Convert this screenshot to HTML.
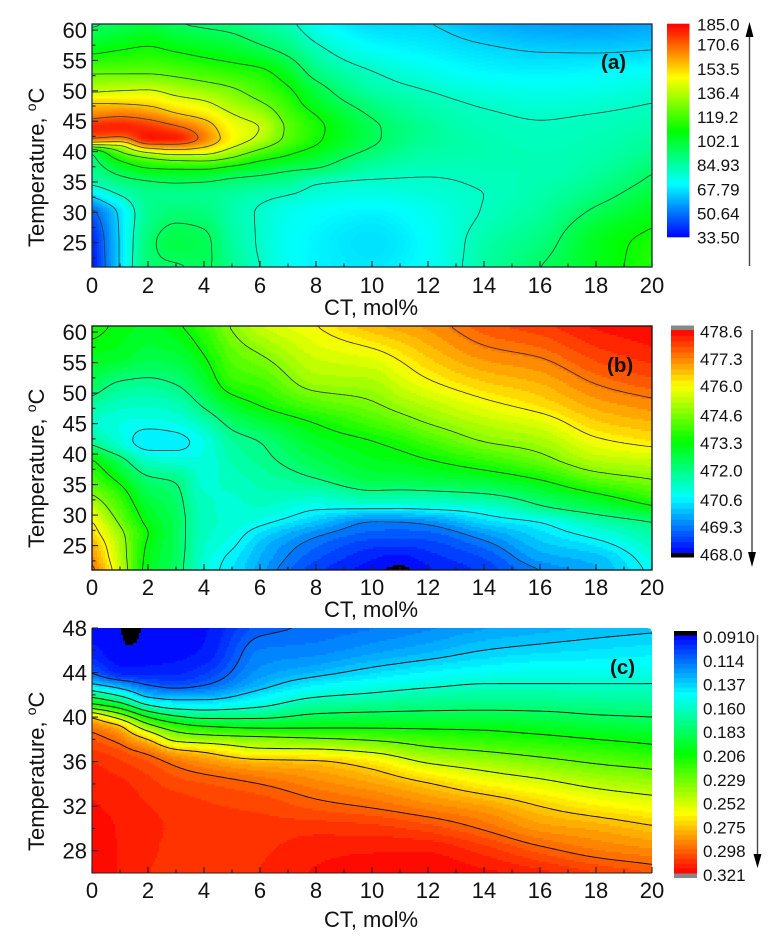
<!DOCTYPE html>
<html lang="en">
<head>
<meta charset="utf-8">
<title>Contour maps versus CT content and temperature</title>
<style>
html,body{margin:0;padding:0;background:#fff;}
svg{display:block;font-family:"Liberation Sans",Arial,sans-serif;fill:#111;}
</style>
</head>
<body>
<svg id="figure" width="781" height="937" viewBox="0 0 781 937" xmlns="http://www.w3.org/2000/svg">
  <defs>
    <clipPath id="clip-a"><rect x="92" y="24" width="560" height="243"/></clipPath>
    <clipPath id="clip-b"><rect x="92" y="326" width="560" height="244"/></clipPath>
    <clipPath id="clip-c"><path d="M92,628H647Q652,628 652,633V873H92Z"/></clipPath>
  </defs>

  <g id="panel-a">
    <g id="heat-a" clip-path="url(#clip-a)"></g>
    <g id="contour-a" clip-path="url(#clip-a)"></g>
    <g id="ticks-a"></g>
    <rect x="92" y="24" width="560" height="243" fill="none" stroke="#1c2c3a" stroke-width="1.3"/>
    <text x="371" y="315" font-size="22" text-anchor="middle">CT, mol%</text>
    <text transform="translate(44,247) rotate(-90)" font-size="22">Temperature, <tspan dy="-8" font-size="14">o</tspan><tspan dy="8">C</tspan></text>
    <text x="601" y="69" font-size="20.5" font-weight="bold">(a)</text>
    <g id="bar-a"></g>
    <line x1="749.5" y1="266" x2="749.5" y2="34" stroke="#444" stroke-width="1.4"/>
    <polygon points="749.5,22 745.5,37 753.5,37" fill="#000"/>
  </g>

  <g id="panel-b">
    <g id="heat-b" clip-path="url(#clip-b)"></g>
    <g id="contour-b" clip-path="url(#clip-b)"></g>
    <g id="ticks-b"></g>
    <rect x="92" y="326" width="560" height="244" fill="none" stroke="#111" stroke-width="1.3"/>
    <text x="371" y="617" font-size="22" text-anchor="middle">CT, mol%</text>
    <text transform="translate(44,548) rotate(-90)" font-size="22">Temperature, <tspan dy="-8" font-size="14">o</tspan><tspan dy="8">C</tspan></text>
    <text x="607" y="372" font-size="20.5" font-weight="bold">(b)</text>
    <g id="bar-b"></g>
    <line x1="752" y1="330" x2="752" y2="556" stroke="#222" stroke-width="1.2"/>
    <polygon points="752,567 748,552 756,552" fill="#000"/>
  </g>

  <g id="panel-c">
    <g id="heat-c" clip-path="url(#clip-c)"></g>
    <g id="contour-c" clip-path="url(#clip-c)"></g>
    <g id="ticks-c"></g>
    <line x1="92" y1="628" x2="92" y2="873.5" stroke="#222" stroke-width="1.1"/>
    <line x1="92" y1="873" x2="652" y2="873" stroke="#222" stroke-width="1.1"/>
    <text x="371" y="927" font-size="22" text-anchor="middle">CT, mol%</text>
    <text transform="translate(44,851) rotate(-90)" font-size="22">Temperature, <tspan dy="-8" font-size="14">o</tspan><tspan dy="8">C</tspan></text>
    <text x="610" y="674" font-size="20.5" font-weight="bold">(c)</text>
    <g id="bar-c"></g>
    <line x1="757.5" y1="635" x2="757.5" y2="858" stroke="#444" stroke-width="1.4"/>
    <polygon points="757.5,868 753.5,854 761.5,854" fill="#000"/>
  </g>
</svg>

<script>
/* ---------- shared axis data ---------- */
const xTickLabels = [0,2,4,6,8,10,12,14,16,18,20];
const xMinorTicks = [1,3,5,7,9,11,13,15,17,19];
const yTicksAB = [25,30,35,40,45,50,55,60];
const yMinorAB = [22.5,27.5,32.5,37.5,42.5,47.5,52.5,57.5];
const yTicksC = [28,32,36,40,44,48];
const yMinorC = [26,30,34,38,42,46];

/* ---------- panel (a) ---------- */
const ctA = [0,1,2,3,4,5,6,7,8,10,12,14,16,18,20];
const tempA = [21,25,30,33,35,37,39,40,41,42,44,46,48,50,53,57,61];
/* one array per CT column, bottom (21 C) to top (61 C) */
const zA = [
 [35,37,47,68,83,88,92,95,135,170,180,165,155,138,124,106,93],
 [66,66,67,81,90,100,114,125,138,165,181,168,154,140,124,109,97],
 [92,92,88,88,94,108,125,143,165,183,178,165,152,141,124,111,100],
 [94,99,92,88,96,109,131,150,166,182,172,157,146,136,122,108,95],
 [96,97,91,88,95,109,132,147,158,167,162,151,142,132,119,105,93],
 [88,86,84,86,92,104,125,134,143,148,146,141,133,127,116,102,91],
 [80,79,79,83,90,100,114,122,130,137,140,134,126,120,113,97,86],
 [73,73,74,80.5,88,96,108,113,118,122,123,120,116,112,104,91,82],
 [70,70,72,77,81,94,102,106,110,112,113,110,104,100,91,82,73],
 [68,67,70,75,79,84,90,93,95.5,97,97,94,90,85,80.5,72,66],
 [73,72,74,77,79,81.5,84,85,86,87,87,85,83,80,75,69,65],
 [85,84,80.5,80,81,82,83,83.5,83.5,83,82,81,79,76,71,66,60],
 [95,91,86,84,83,82,82,82,81.5,81,80.5,79.5,77,74.5,70,64,57],
 [105,105,97,91,88,85.5,84,83.5,83,82.5,81.5,80.3,78,75,71,63.5,56],
 [115,113,106,101,97,94,90,88,87,86,84,82,80,78,73,64.5,58]
];
const levelsA = [50,65,80,95,110,125,140,155,170];
const barLabelsA = ["185.0","170.6","153.5","136.4","119.2","102.1","84.93","67.79","50.64","33.50"];

/* ---------- panel (b) ---------- */
const ctB = [0,1,2,3,4,5,6,8,10,11,12,14,16,18,20];
const tempB = [21,23,25,27,29,31,33,36,39,42,45,48,52,56,61];
const zB = [
 [477.6,477.2,476.9,476.4,476.05,475.5,474.8,474,473.4,471.8,471.2,471.7,472.5,473,473.6],
 [475.4,475.2,475.1,474.9,474.5,474.1,473.8,473.1,472.3,471,470.9,471.3,472,472.9,473.2],
 [473,473.1,473.2,473.35,473.1,472.9,472.6,472.1,471.2,470.4,470.8,471.2,471.9,472.6,473],
 [472.3,472.35,472.4,472.4,472.4,472.3,472.2,471.9,471,470.5,470.9,471.4,472.1,472.7,473.25],
 [471,471.1,471.2,471.3,471.3,471.3,471.2,471.1,470.95,470.9,471.4,472.1,472.8,473.3,473.85],
 [470.4,470.5,470.75,470.95,471.1,471.1,471.15,471.3,471.5,471.7,472.2,472.9,473.8,474.2,474.75],
 [469.7,469.85,470,470.35,470.85,471.15,471.35,471.55,471.8,472,472.6,473.35,474,474.6,475.4],
 [468.6,468.85,469.1,469.45,470.1,470.7,471.2,472,472.5,472.9,473.33,474.1,475,475.45,476],
 [468.1,468.3,468.6,469,469.33,470.66,471.6,472.6,473,473.3,473.95,474.55,475.1,475.75,476.7],
 [467.9,468.15,468.55,468.95,469.35,470.65,471.55,472.6,473.1,473.55,474.3,474.9,475.55,476.1,476.9],
 [468.2,468.4,468.65,469,469.5,470.7,471.6,472.7,473.3,473.95,474.66,475.2,475.95,476.5,477.1],
 [468.6,468.8,469.15,469.6,470.3,470.95,471.8,472.9,473.8,474.66,475.2,475.8,476.5,477.1,477.7],
 [469.3,469.7,470,470.3,470.7,471.8,472.4,473.4,474.4,475,475.6,476.25,476.8,477.35,478],
 [469.8,470,470.4,470.9,471.5,472.4,473.1,474.3,475.2,475.85,476.4,476.85,477.4,477.9,478.4],
 [470.8,471,471.3,471.6,472.05,473.1,473.85,474.7,475.4,476.2,476.7,477.15,477.75,478.2,478.6]
];
const levelsB = [469.33,470.66,472,473.33,474.66,476,477.33];
const barLabelsB = ["478.6","477.3","476.0","474.6","473.3","472.0","470.6","469.3","468.0"];

/* ---------- panel (c) ---------- */
const ctC = [0,1,1.3,2,3,4,6,8,10,12,14,16,18,20];
const tempC = [26,28,30,32,34,36,37,38,39,40,41,42,43,44,46,48];
const zC = [
 [.319,.319,.318,.317,.315,.312,.308,.303,.295,.275,.215,.175,.137,.113,.097,.094],
 [.316,.316,.316,.315,.313,.308,.303,.294,.282,.244,.196,.156,.124,.098,.0925,.0915],
 [.315,.315,.315,.314,.312,.3065,.300,.288,.270,.233,.186,.149,.120,.098,.0918,.0880],
 [.312,.313,.313,.312,.309,.303,.294,.275,.243,.206,.163,.131,.112,.098,.093,.0925],
 [.309,.310,.311,.310,.305,.295,.278,.246,.221,.187,.151,.127,.107,.099,.094,.094],
 [.309,.309,.309,.308,.303,.288,.272,.241,.212,.179,.150,.128,.112,.104,.096,.095],
 [.312,.311,.309,.306,.298,.279,.256,.236,.206,.180,.158,.143,.131,.125,.119,.111],
 [.317,.315,.310,.301,.291,.277,.255,.232,.206,.188,.172,.157,.145,.133,.121,.115],
 [.319,.316,.309,.297,.285,.268,.248,.227,.206,.190,.175,.162,.151,.141,.126,.118],
 [.320,.316,.305,.291,.276,.250,.234,.220,.205,.190,.178,.167,.156,.147,.131,.122],
 [.318,.310,.297,.285,.265,.242,.228,.215,.204,.190,.179,.169,.160,.151,.137,.127],
 [.314,.301,.287,.275,.257,.234,.222,.211,.200,.189,.178,.169,.160,.153,.140,.130],
 [.308,.294,.283,.267,.248,.227,.217,.206,.196,.185,.176,.167,.160,.153,.142,.133],
 [.303,.290,.277,.261,.242,.222,.211,.202,.192,.183,.175,.167,.160,.154,.144,.135]
];
const levelsC = [.114,.137,.160,.183,.206,.229,.252,.275,.298];
const barLabelsC = ["0.0910","0.114","0.137","0.160","0.183","0.206","0.229","0.252","0.275","0.298","0.321"];

/* ---------- helpers ---------- */
const NS = "http://www.w3.org/2000/svg";
const STOPS = [[0,0,255],[0,255,255],[0,255,0],[255,255,0],[255,0,0]];

function rainbow(t){
  t = Math.max(0, Math.min(1, t)) * 4;
  const i = Math.min(3, Math.floor(t)), f = t - i;
  const a = STOPS[i], b = STOPS[i + 1];
  return "rgb(" + Math.round(a[0] + (b[0] - a[0]) * f) + "," + Math.round(a[1] + (b[1] - a[1]) * f) + "," + Math.round(a[2] + (b[2] - a[2]) * f) + ")";
}

function resample(xs, ys, queries){
  const n = xs.length, h = [], d = [], m = new Array(n);
  for (let i = 0; i < n - 1; i++){ h[i] = xs[i+1] - xs[i]; d[i] = (ys[i+1] - ys[i]) / h[i]; }
  m[0] = d[0]; m[n-1] = d[n-2];
  for (let i = 1; i < n - 1; i++){
    if (d[i-1] * d[i] <= 0) { m[i] = 0; continue; }
    const w1 = 2 * h[i] + h[i-1], w2 = h[i] + 2 * h[i-1];
    m[i] = (w1 + w2) / (w1 / d[i-1] + w2 / d[i]);
  }
  let k = 0;
  return queries.map(function(q){
    while (k < n - 2 && q > xs[k+1]) k++;
    while (k > 0 && q < xs[k]) k--;
    const s = (q - xs[k]) / h[k], s2 = s * s, s3 = s2 * s;
    return (2*s3 - 3*s2 + 1) * ys[k] + (s3 - 2*s2 + s) * h[k] * m[k] + (-2*s3 + 3*s2) * ys[k+1] + (s3 - s2) * h[k] * m[k+1];
  });
}

function smooth(g){
  const ny = g.length, nx = g[0].length;
  const out = g.map(function(r){ return r.slice(); });
  for (let j = 0; j < ny; j++) for (let i = 0; i < nx; i++){
    let s = 0, w = 0;
    for (let dj = -1; dj <= 1; dj++) for (let di = -1; di <= 1; di++){
      const jj = j + dj, ii = i + di;
      if (jj < 0 || jj >= ny || ii < 0 || ii >= nx) continue;
      const wt = (2 - Math.abs(dj)) * (2 - Math.abs(di));
      s += g[jj][ii] * wt; w += wt;
    }
    out[j][i] = s / w;
  }
  return out;
}

function addText(parent, x, y, str, size, anchor, name){
  const t = document.createElementNS(NS, "text");
  
  
  t.setAttribute("x", x);
  t.setAttribute("y", y);
  t.setAttribute("font-size", size);
  t.setAttribute("text-anchor", anchor);
  t.textContent = str;
  parent.appendChild(t);
}

function addTick(parent, x1, y1, x2, y2){
  const l = document.createElementNS(NS, "line");
  
  
  l.setAttribute("x1", x1);
  l.setAttribute("y1", y1);
  l.setAttribute("x2", x2);
  l.setAttribute("y2", y2);
  l.setAttribute("stroke", "#222");
  l.setAttribute("stroke-width", "1.1");
  parent.appendChild(l);
}

function drawPanel(p){
  const STEP = 2;
  const sx = function(v){ return p.left + (v - p.ctMin) / (p.ctMax - p.ctMin) * (p.right - p.left); };
  const sy = function(v){ return p.bottom - (v - p.tMin) / (p.tMax - p.tMin) * (p.bottom - p.top); };
  const nx = Math.round((p.right - p.left) / STEP) + 1;
  const ny = Math.round((p.bottom - p.top) / STEP) + 1;
  const qx = [], qy = [];
  for (let i = 0; i < nx; i++) qx.push(p.ctMin + (p.ctMax - p.ctMin) * i / (nx - 1));
  for (let j = 0; j < ny; j++) qy.push(p.tMin + (p.tMax - p.tMin) * j / (ny - 1));

  /* columns -> fine along T, then fine along CT */
  const colFine = p.z.map(function(col){ return resample(p.temps, col, qy); });
  let grid = [];
  for (let j = 0; j < ny; j++){
    grid.push(resample(p.cts, colFine.map(function(c){ return c[j]; }), qx));
  }
  for (let pass = 0; pass < 3; pass++) grid = smooth(grid);

  const colorOf = function(v){
    if (p.caps && v < p.vMin) return "#000";
    if (p.caps && v > p.vMax) return "#888";
    const idx = Math.max(0, Math.min(p.bands - 1, Math.floor((v - p.vMin) / (p.vMax - p.vMin) * p.bands)));
    return rainbow((idx + 0.5) / p.bands);
  };

  /* heatmap cells, merged along each row */
  const heat = document.getElementById("heat-" + p.id);
  const frag = document.createDocumentFragment();
  for (let j = 0; j < ny; j++){
    let start = 0, cur = colorOf(grid[j][0]);
    for (let i = 1; i <= nx; i++){
      const c = i < nx ? colorOf(grid[j][i]) : null;
      if (c !== cur){
        const r = document.createElementNS(NS, "rect");
        
        
        r.setAttribute("x", sx(qx[start]) - STEP / 2);
        r.setAttribute("y", sy(qy[j]) - STEP / 2);
        r.setAttribute("width", (i - start) * STEP);
        r.setAttribute("height", STEP);
        r.setAttribute("fill", cur);
        r.setAttribute("shape-rendering", "crispEdges");
        frag.appendChild(r);
        start = i; cur = c;
      }
    }
  }
  heat.appendChild(frag);

  /* contour lines by marching squares */
  const cg = document.getElementById("contour-" + p.id);
  p.levels.forEach(function(level){
    let d = "";
    const cross = function(x0, y0, v0, x1, y1, v1){
      const f = (level - v0) / (v1 - v0);
      return [x0 + (x1 - x0) * f, y0 + (y1 - y0) * f];
    };
    for (let j = 0; j < ny - 1; j++) for (let i = 0; i < nx - 1; i++){
      const a = grid[j][i], b = grid[j][i+1], c = grid[j+1][i+1], e = grid[j+1][i];
      const x0 = sx(qx[i]), x1 = sx(qx[i+1]), y0 = sy(qy[j]), y1 = sy(qy[j+1]);
      const pts = [];
      if ((a < level) !== (b < level)) pts.push(cross(x0, y0, a, x1, y0, b));
      if ((b < level) !== (c < level)) pts.push(cross(x1, y0, b, x1, y1, c));
      if ((c < level) !== (e < level)) pts.push(cross(x1, y1, c, x0, y1, e));
      if ((e < level) !== (a < level)) pts.push(cross(x0, y1, e, x0, y0, a));
      if (pts.length >= 2) d += "M" + pts[0][0].toFixed(1) + "," + pts[0][1].toFixed(1) + "L" + pts[1][0].toFixed(1) + "," + pts[1][1].toFixed(1);
      if (pts.length === 4) d += "M" + pts[2][0].toFixed(1) + "," + pts[2][1].toFixed(1) + "L" + pts[3][0].toFixed(1) + "," + pts[3][1].toFixed(1);
    }
    const path = document.createElementNS(NS, "path");
    
    
    path.setAttribute("d", d);
    path.setAttribute("fill", "none");
    path.setAttribute("stroke", p.lineColor);
    path.setAttribute("stroke-width", p.lineWidth);
    path.setAttribute("stroke-linecap", "round");
    cg.appendChild(path);
  });

  /* axes */
  const tg = document.getElementById("ticks-" + p.id);
  p.xTicks.forEach(function(v){
    addTick(tg, sx(v), p.bottom, sx(v), p.bottom - 6);
    addText(tg, sx(v), p.bottom + p.xLabelGap, String(v), 22, "middle", "x-tick-label");
  });
  p.xMinor.forEach(function(v){ addTick(tg, sx(v), p.bottom, sx(v), p.bottom - 3.5); });
  p.yTicks.forEach(function(v){
    addTick(tg, p.left, sy(v), p.left + 6, sy(v));
    addText(tg, 87, sy(v) + 8, String(v), 22, "end", "y-tick-label");
  });
  p.yMinor.forEach(function(v){ addTick(tg, p.left, sy(v), p.left + 3.5, sy(v)); });

  /* colour bar */
  const bar = document.getElementById("bar-" + p.id);
  const by = function(v){ return p.barY0 + (v - p.barV0) / (p.barV1 - p.barV0) * (p.barY1 - p.barY0); };
  for (let k = 0; k < p.bands; k++){
    const v0 = p.vMin + (p.vMax - p.vMin) * k / p.bands;
    const v1 = p.vMin + (p.vMax - p.vMin) * (k + 1) / p.bands;
    const ya = by(v0), yb = by(v1);
    const r = document.createElementNS(NS, "rect");
    
    
    r.setAttribute("x", p.barX);
    r.setAttribute("y", Math.min(ya, yb) - 0.3);
    r.setAttribute("width", p.barW);
    r.setAttribute("height", Math.abs(yb - ya) + 0.6);
    r.setAttribute("fill", rainbow((k + 0.5) / p.bands));
    bar.appendChild(r);
  }
  if (p.caps){
    const low = document.createElementNS(NS, "rect");
    
    
    low.setAttribute("x", p.barX);
    low.setAttribute("y", p.lowCapY);
    low.setAttribute("width", p.barW);
    low.setAttribute("height", 4.5);
    low.setAttribute("fill", "#000");
    bar.appendChild(low);
    const high = document.createElementNS(NS, "rect");
    
    
    high.setAttribute("x", p.barX);
    high.setAttribute("y", p.highCapY);
    high.setAttribute("width", p.barW);
    high.setAttribute("height", 4.5);
    high.setAttribute("fill", "#888");
    bar.appendChild(high);
  }
  p.barLabels.forEach(function(s){
    addText(bar, p.labelX, by(parseFloat(s)) + 6.5 + p.labelShift, s, 17, "start", "colorbar-label");
  });
}

drawPanel({id:"a", left:92, right:652, top:24, bottom:267, ctMin:0, ctMax:20, tMin:21, tMax:61,
  cts:ctA, temps:tempA, z:zA, levels:levelsA, vMin:33.5, vMax:185, bands:200, caps:false,
  lineColor:"#23413a", lineWidth:0.8, xTicks:xTickLabels, xMinor:xMinorTicks, yTicks:yTicksAB, yMinor:yMinorAB, xLabelGap:26,
  barX:667, barW:22.5, barY0:237, barV0:33.5, barY1:24, barV1:185, labelX:697, labelShift:0, barLabels:barLabelsA});

drawPanel({id:"b", left:92, right:652, top:326, bottom:570, ctMin:0, ctMax:20, tMin:21, tMax:61,
  cts:ctB, temps:tempB, z:zB, levels:levelsB, vMin:468, vMax:478.6, bands:40, caps:true,
  lineColor:"#2a2a2a", lineWidth:0.8, xTicks:xTickLabels, xMinor:xMinorTicks, yTicks:yTicksAB, yMinor:yMinorAB, xLabelGap:25,
  barX:671, barW:23, barY0:553, barV0:468, barY1:330, barV1:478.6, lowCapY:553, highCapY:325.5, labelX:700, labelShift:1, barLabels:barLabelsB});

drawPanel({id:"c", left:92, right:652, top:628, bottom:873, ctMin:0, ctMax:20, tMin:26, tMax:48,
  cts:ctC, temps:tempC, z:zC, levels:levelsC, vMin:0.091, vMax:0.321, bands:50, caps:true,
  lineColor:"#111", lineWidth:0.95, xTicks:xTickLabels, xMinor:xMinorTicks, yTicks:yTicksC, yMinor:yMinorC, xLabelGap:25,
  barX:674, barW:23, barY0:635.5, barV0:0.091, barY1:873.5, barV1:0.321, lowCapY:631, highCapY:873.5, labelX:703, labelShift:1, barLabels:barLabelsC});
</script>
</body>
</html>
